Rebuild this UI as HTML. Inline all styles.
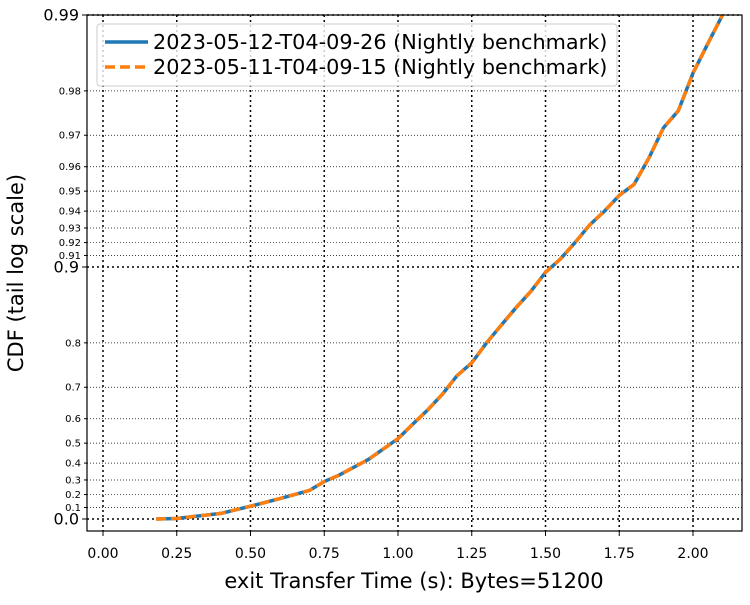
<!DOCTYPE html>
<html><head><meta charset="utf-8"><style>
body{margin:0;background:#fff;}
svg{font-family:"DejaVu Sans","Liberation Sans",sans-serif;}
</style></head><body>
<svg id="chart" width="750" height="600">
<g id="grid"></g>
<g id="series"></g>
<rect x="87" y="15" width="655" height="516" fill="none" stroke="#000" stroke-width="1.2"/>
<g id="axes"></g>
<text x="414" y="588" font-size="21" text-anchor="middle">exit Transfer Time (s): Bytes=51200</text>
<text transform="translate(23,273) rotate(-90)" font-size="21" text-anchor="middle">CDF (tail log scale)</text>
<g>
<rect x="97" y="24" width="520" height="62" fill="#fff" fill-opacity="0.8" stroke="#ccc" rx="3"/>
<line x1="105" y1="42" x2="148" y2="42" stroke="#1f77b4" stroke-width="3.5"/>
<text x="153" y="49" font-size="20.8">2023-05-12-T04-09-26 (Nightly benchmark)</text>
<line x1="105" y1="67" x2="148" y2="67" stroke="#ff7f0e" stroke-width="3.5" stroke-dasharray="10,5"/>
<text x="153" y="74" font-size="20.8">2023-05-11-T04-09-15 (Nightly benchmark)</text>
</g>
</svg>
<script>
const xTicks=[0,0.25,0.5,0.75,1.0,1.25,1.5,1.75,2.0];
const xTickLabels=["0.00","0.25","0.50","0.75","1.00","1.25","1.50","1.75","2.00"];
const yMajor=[0.0,0.9,0.99];
const yMajorLabels=["0.0","0.9","0.99"];
const yMinor=[0.1,0.2,0.3,0.4,0.5,0.6,0.7,0.8,0.91,0.92,0.93,0.94,0.95,0.96,0.97,0.98];
const seriesA_x=[0.18,0.25,0.3,0.4,0.5,0.6,0.7,0.75,0.8,0.9,1.0,1.05,1.1,1.15,1.2,1.25,1.3,1.35,1.4,1.45,1.5,1.55,1.6,1.65,1.7,1.75,1.8,1.85,1.9,1.95,2.0,2.05,2.1];
const seriesA_p=[0.0,0.005,0.02,0.05,0.11,0.17,0.23,0.29,0.33,0.42,0.52,0.58,0.63,0.68,0.73,0.76,0.8,0.83,0.855,0.875,0.895,0.907,0.92,0.932,0.94,0.948,0.953,0.963,0.972,0.976,0.983,0.987,0.99];
const seriesB_x=seriesA_x.slice();
const seriesB_p=seriesA_p.slice();
const NS="http://www.w3.org/2000/svg";
function X(v){return 103+v*295;}
function Y(p){return 519-(-Math.log10(1-p))*252;}
function mk(tag,attrs,parent,txt){const e=document.createElementNS(NS,tag);for(const k in attrs)e.setAttribute(k,attrs[k]);if(txt!==undefined)e.textContent=txt;parent.appendChild(e);return e;}
const grid=document.getElementById('grid'),axes=document.getElementById('axes'),ser=document.getElementById('series');
xTicks.forEach((v,i)=>{
 const g=mk('line',{x1:X(v),x2:X(v),y1:15,y2:531,stroke:'#000','stroke-width':1.5,'stroke-dasharray':'2,3'},grid);
 
 
 const t=mk('line',{x1:X(v),x2:X(v),y1:531,y2:536,stroke:'#000'},axes);
 
 
 const l=mk('text',{x:X(v),y:558,'font-size':14,'text-anchor':'middle'},axes,xTickLabels[i]);
 
 
});
yMinor.forEach(p=>{
 const g=mk('line',{x1:87,x2:742,y1:Y(p),y2:Y(p),stroke:'#000','stroke-width':0.7,'stroke-dasharray':'1,2'},grid);
 
 
 const t=mk('line',{x1:84,x2:87,y1:Y(p),y2:Y(p),stroke:'#000'},axes);
 
 
 const l=mk('text',{x:81,y:Y(p)+3.5,'font-size':10,'text-anchor':'end'},axes,String(p));
 
 
});
yMajor.forEach((p,i)=>{
 const g=mk('line',{x1:87,x2:742,y1:Y(p),y2:Y(p),stroke:'#000','stroke-width':1.5,'stroke-dasharray':'2,3'},grid);
 
 
 const t=mk('line',{x1:82,x2:87,y1:Y(p),y2:Y(p),stroke:'#000'},axes);
 
 
 const l=mk('text',{x:79,y:Y(p)+5.5,'font-size':16,'text-anchor':'end'},axes,yMajorLabels[i]);
 
 
});
function pts(xs,ps){return xs.map((x,i)=>X(x).toFixed(1)+','+Y(ps[i]).toFixed(1)).join(' ');}
const a=mk('polyline',{points:pts(seriesA_x,seriesA_p),fill:'none',stroke:'#1f77b4','stroke-width':3.5},ser);


const b=mk('polyline',{points:pts(seriesB_x,seriesB_p),fill:'none',stroke:'#ff7f0e','stroke-width':3.5,'stroke-dasharray':'10,5'},ser);


</script>
</body></html>
